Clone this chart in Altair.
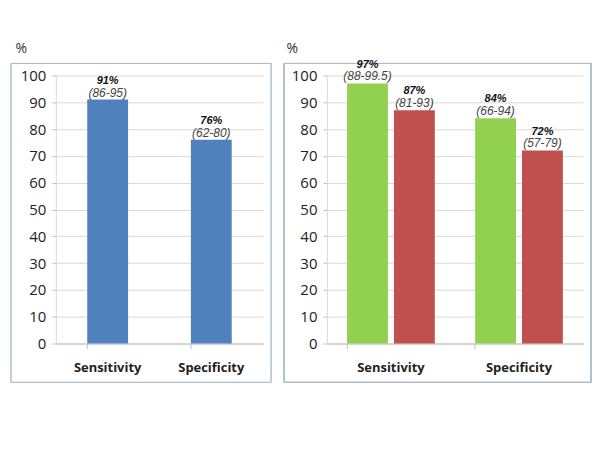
import altair as alt
import pandas as pd

# ---- data ----
categories = ["Sensitivity", "Specificity"]
left_values = [91, 76]
left_pct = ["91%", "76%"]
left_ci = ["(86-95)", "(62-80)"]

right_series = ["Group 1", "Group 2"]
right_green = [97, 84]
right_red = [87, 72]
right_green_pct = ["97%", "84%"]
right_red_pct = ["87%", "72%"]
right_green_ci = ["(88-99.5)", "(66-94)"]
right_red_ci = ["(81-93)", "(57-79)"]

df_left = pd.DataFrame({"cat": categories, "value": left_values,
                        "pct": left_pct, "ci": left_ci})
rows = []
for i, c in enumerate(categories):
    rows.append({"cat": c, "series": right_series[0], "value": right_green[i],
                 "pct": right_green_pct[i], "ci": right_green_ci[i]})
    rows.append({"cat": c, "series": right_series[1], "value": right_red[i],
                 "pct": right_red_pct[i], "ci": right_red_ci[i]})
df_right = pd.DataFrame(rows)

H = 269
LW = 208
RW = 257
BORDER = "#a9bfcf"
TICKFONT = "Open Sans"

def y_enc():
    return alt.Y("value:Q",
                 scale=alt.Scale(domain=[0, 100], nice=False),
                 axis=alt.Axis(values=list(range(0, 101, 10)), title="%",
                               titleAngle=0, titleX=-41, titleY=-27,
                               titleAlign="left", titleBaseline="middle",
                               titleFont=TICKFONT, titleFontSize=14,
                               titleFontWeight="normal", titleColor="#333",
                               labelFont=TICKFONT, labelFontSize=15,
                               labelColor="#222", labelPadding=6,
                               grid=True, gridColor="#d9d9d9",
                               domain=True, domainColor="#d9d9d9",
                               tickColor="#bfbfbf", tickSize=4))

def x_enc(pi, po):
    return alt.X("cat:N", sort=categories,
                 scale=alt.Scale(paddingInner=pi, paddingOuter=po),
                 axis=alt.Axis(title=None, labelAngle=0, labelFont=TICKFONT,
                               labelFontSize=13, labelFontWeight="bold",
                               labelColor="#222", labelPadding=13,
                               domainColor="#bfbfbf", tickColor="#bfbfbf",
                               tickSize=5, bandPosition=0, grid=False))

# ---- left panel ----
lbase = alt.Chart(df_left).encode(x=x_enc(0.606, 0.303), y=y_enc())
lbars = lbase.mark_bar(color="#4f81bd")
lpct = lbase.mark_text(font="Liberation Sans", fontSize=11, fontWeight="bold",
                       fontStyle="italic", baseline="bottom", dy=-14,
                       color="#111").encode(text="pct:N")
lci = lbase.mark_text(font="Liberation Sans", fontSize=12, fontStyle="italic",
                      baseline="bottom", dy=0, color="#444").encode(text="ci:N")
lborder = alt.Chart(df_left).mark_rect(fill="transparent", stroke=BORDER,
                                       strokeWidth=1).encode(
    x=alt.value(-45), x2=alt.value(LW + 8), y=alt.value(-12), y2=alt.value(H + 39))
left = alt.layer(lborder, lbars, lpct, lci).properties(width=LW, height=H)

# ---- right panel ----
rbase = alt.Chart(df_right).encode(
    x=x_enc(0.315, 0.1575), y=y_enc(),
    xOffset=alt.XOffset("series:N", sort=right_series,
                        scale=alt.Scale(paddingInner=0.128, paddingOuter=0)))
rbars = rbase.mark_bar().encode(
    color=alt.Color("series:N", sort=right_series,
                    scale=alt.Scale(domain=right_series, range=["#92d050", "#c0504d"]),
                    legend=None))
rpct = rbase.mark_text(font="Liberation Sans", fontSize=11, fontWeight="bold",
                       fontStyle="italic", baseline="bottom", dy=-14,
                       color="#111").encode(text="pct:N")
rci = rbase.mark_text(font="Liberation Sans", fontSize=12, fontStyle="italic",
                      baseline="bottom", dy=0, color="#444").encode(text="ci:N")
rborder = alt.Chart(df_right).mark_rect(fill="transparent", stroke=BORDER,
                                        strokeWidth=1).encode(
    x=alt.value(-43), x2=alt.value(RW + 8), y=alt.value(-12), y2=alt.value(H + 39))
right = alt.layer(rborder, rbars, rpct, rci).properties(width=RW, height=H)

chart = alt.hconcat(left, right, spacing=11).properties(
    padding={"left": 2, "top": 33, "right": 0, "bottom": 0}
).configure_view(stroke=None)

chart.save("out.html", embed_options={"renderer": "svg", "actions": False})
